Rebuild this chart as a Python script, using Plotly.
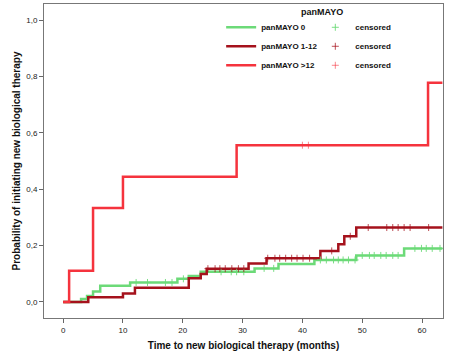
import plotly.graph_objects as go
import numpy as np

# ---- data ----
groups = ["panMAYO 0", "panMAYO 1-12", "panMAYO >12"]

t0 = [0, 3, 4, 5, 6.2, 11.2, 19.1, 21, 23, 32, 36, 42, 49, 57, 63.4]
p0 = [0, 0.010, 0.021, 0.037, 0.057, 0.069, 0.082, 0.092, 0.107, 0.119, 0.135, 0.149, 0.165, 0.190, 0.190]
c0 = [12.2, 14.1, 17.1, 18.2, 20.1, 26.4, 28.1, 29, 30.2, 33.6, 35.2, 43, 44, 45.2, 46,
      46.8, 47.7, 48.8, 50, 51.2, 52, 53.1, 54, 55.1, 56, 58.8, 59.9, 60.7, 61.7, 63]

t1 = [0, 4.2, 10, 12, 21, 23, 24, 31, 34, 43, 46, 47, 49, 63.4]
p1 = [0, 0.017, 0.030, 0.050, 0.084, 0.099, 0.118, 0.136, 0.155, 0.181, 0.205, 0.233, 0.264, 0.264]
c1 = [24.2, 25.4, 26.2, 27.1, 28.2, 29.3, 30.2, 34.2, 35.4, 36.2, 37.2, 38.2, 39.1, 40.1, 41.2,
      44.9, 48, 51, 54.1, 55.1, 56, 57, 58, 61.1]

t2 = [0, 1, 5, 10, 29, 61, 63.4]
p2 = [0, 0.111, 0.333, 0.444, 0.556, 0.778, 0.778]
c2 = [40, 41]

x_ticks = [0, 10, 20, 30, 40, 50, 60]
y_ticks = [0, 0.2, 0.4, 0.6, 0.8, 1.0]
y_tick_labels = ["0,0", "0,2", "0,4", "0,6", "0,8", "1,0"]

colors = ["#6cda78", "#a5121c", "#f5333d"]
censor_colors = ["rgba(108,218,120,0.9)", "rgba(165,18,28,0.75)", "rgba(245,51,61,0.6)"]


def level_at(times, probs, x):
    idx = np.searchsorted(np.array(times), x, side="right") - 1
    return [probs[i] for i in idx]


fig = go.Figure()
series = [(t0, p0, c0), (t1, p1, c1), (t2, p2, c2)]
for i, (t, p, c) in enumerate(series):
    fig.add_trace(go.Scatter(
        x=t, y=p, mode="lines", line=dict(shape="hv", color=colors[i], width=2.5),
        name=groups[i], legend="legend", hoverinfo="skip"))
for i, (t, p, c) in enumerate(series):
    fig.add_trace(go.Scatter(
        x=c, y=level_at(t, p, c), mode="markers",
        marker=dict(symbol="cross-thin", size=5, line=dict(color=censor_colors[i], width=1)),
        name="censored", legend="legend2", hoverinfo="skip"))

font_family = "Liberation Sans, Arial, sans-serif"

fig.update_layout(
    width=452, height=361,
    margin=dict(l=44, r=9, t=4, b=43),
    paper_bgcolor="white", plot_bgcolor="white",
    font=dict(family=font_family, color="#222"),
    showlegend=True,
    legend=dict(x=0.444, y=0.972, xanchor="left", yanchor="top",
                font=dict(size=8, family=font_family, weight="bold", color="#111"),
                bgcolor="rgba(0,0,0,0)", itemwidth=30, tracegroupgap=0),
    legend2=dict(x=0.68, y=0.972, xanchor="left", yanchor="top",
                 font=dict(size=8, family=font_family, weight="bold", color="#111"),
                 bgcolor="rgba(0,0,0,0)", itemwidth=30, tracegroupgap=0),
    annotations=[dict(text="<b>panMAYO</b>", x=0.697, y=0.976, xref="paper", yref="paper",
                      xanchor="center", yanchor="middle",
                      showarrow=False, font=dict(size=9, color="#111"))],
    xaxis=dict(range=[-3.2, 63.5], tickvals=x_ticks, ticks="outside", ticklen=4,
               tickcolor="#666", tickfont=dict(size=8, color="#222"),
               showgrid=False, zeroline=False, showline=True, mirror=True,
               linecolor="#777", linewidth=1, automargin=False,
               title=dict(text="<b>Time to new biological therapy (months)</b>",
                          font=dict(size=10, color="#111"), standoff=8)),
    yaxis=dict(range=[-0.057, 1.057], tickvals=y_ticks, ticktext=y_tick_labels,
               ticks="outside", ticklen=4, tickcolor="#666",
               tickfont=dict(size=8, color="#222"),
               showgrid=False, zeroline=False, showline=True, mirror=True,
               linecolor="#777", linewidth=1, automargin=False,
               title=dict(text="<b>Probability of initiating new biological therapy</b>",
                          font=dict(size=10, color="#111"), standoff=3)),
)

fig.write_html("out.html", config={"displayModeBar": False},
               post_script="document.body.style.margin='0';")
